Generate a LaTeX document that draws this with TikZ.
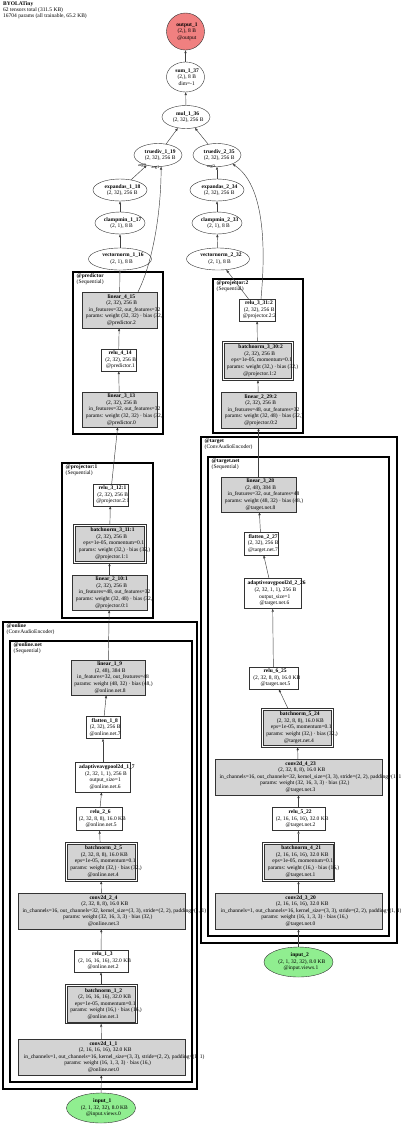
\documentclass[tikz,border=0pt]{standalone}
\usepackage{fontspec}
\setmainfont{Liberation Serif}
\usetikzlibrary{shapes.geometric,arrows.meta}
\definecolor{gvgray}{HTML}{D3D3D3}
\definecolor{gvred}{HTML}{F08080}
\definecolor{gvgreen}{HTML}{90EE90}
\newcommand{\gl}[1]{\makebox[0pt]{\makebox[0.86\width][l]{#1}}}
\tikzset{
  txt/.style={font=\fontsize{5.5}{6.6}\selectfont, align=center, inner sep=0pt},
  box/.style={txt, rectangle, draw=black!80, line width=0.4pt, fill=white},
  gbox/.style={box, fill=gvgray},
  dbox/.style={box, fill=white, path picture={\draw[draw=black!80, line width=0.4pt, fill=gvgray] ([xshift=1.7pt,yshift=-1.7pt]path picture bounding box.north west) rectangle ([xshift=-1.7pt,yshift=1.7pt]path picture bounding box.south east);}},
  oval/.style={txt, ellipse, draw=black!80, line width=0.4pt, fill=white},
  cl/.style={draw=black, line width=1.8pt},
  cllab/.style={anchor=north west, inner sep=0pt, align=left, font=\fontsize{5.5}{6.2}\selectfont},
  elab/.style={inner sep=0pt, font=\fontsize{4.3}{5}\selectfont},
  arr/.style={draw=black!75, line width=0.45pt, -{Triangle[length=3pt,width=2.2pt]}},
}
\begin{document}
\begin{tikzpicture}[x=1pt, y=-1pt]
\fill[white] (0,0) rectangle (400,1128);
\useasboundingbox (0,0) rectangle (400,1128);

% header
\node[cllab] (hdr) at (3,1) {\textbf{BYOLATiny}\\62 tensors total (311.5 KB)\\16704 params (all trainable, 65.2 KB)};

% clusters
\draw[cl] (73,272) rectangle (163,434);
\node[cllab] (predlab) at (76.5,273.5) {\textbf{@predictor}\\(Sequential)};
\draw[cl] (213,279) rectangle (303,433);
\node[cllab] (proj2lab) at (216.5,280.5) {\textbf{@projector:2}\\(Sequential)};
\draw[cl] (62,463) rectangle (153,618);
\node[cllab] (proj1lab) at (65.5,464.5) {\textbf{@projector:1}\\(Sequential)};
\draw[cl] (3,622) rectangle (197,1089);
\node[cllab] (onlab) at (6.5,623.5) {\textbf{@online}\\(ConvAudioEncoder)};
\draw[cl] (10,641) rectangle (192,1082);
\node[cllab] (onnetlab) at (13.5,642.5) {\textbf{@online.net}\\(Sequential)};
\draw[cl] (201,437) rectangle (397,943);
\node[cllab] (tglab) at (204.5,438.5) {\textbf{@target}\\(ConvAudioEncoder)};
\draw[cl] (208,457) rectangle (389,936);
\node[cllab] (tgnetlab) at (211.5,458.5) {\textbf{@target.net}\\(Sequential)};

% top ellipses
\node[oval, fill=gvred, minimum width=38pt, minimum height=37pt] (out) at (185.5,31.5) {\gl{\textbf{output\_1}}\\\gl{(2,), 8 B}\\\gl{@output}};
\node[oval, minimum width=38pt, minimum height=30pt] (sum) at (185.5,77) {\gl{\textbf{sum\_1\_37}}\\\gl{(2,), 8 B}\\\gl{dim=-1}};
\node[oval, minimum width=48pt, minimum height=23pt] (mul) at (186,117) {\gl{\textbf{mul\_1\_36}}\\\gl{(2, 32), 256 B}};
\node[oval, minimum width=48pt, minimum height=23pt] (td1) at (158,155) {\gl{\textbf{truediv\_1\_19}}\\\gl{(2, 32), 256 B}};
\node[oval, minimum width=48pt, minimum height=23pt] (td2) at (217,155) {\gl{\textbf{truediv\_2\_35}}\\\gl{(2, 32), 256 B}};
\node[oval, minimum width=54pt, minimum height=22pt] (ea1) at (120,190) {\gl{\textbf{expandas\_1\_18}}\\\gl{(2, 32), 256 B}};
\node[oval, minimum width=50pt, minimum height=22pt] (cm1) at (120,223) {\gl{\textbf{clampmin\_1\_17}}\\\gl{(2, 1), 8 B}};
\node[oval, minimum width=63pt, minimum height=22pt] (vn1) at (120,259) {\gl{\textbf{vectornorm\_1\_16}}\\\gl{(2, 1), 8 B}};
\node[oval, minimum width=54pt, minimum height=22pt] (ea2) at (217,190) {\gl{\textbf{expandas\_2\_34}}\\\gl{(2, 32), 256 B}};
\node[oval, minimum width=50pt, minimum height=22pt] (cm2) at (217,223) {\gl{\textbf{clampmin\_2\_33}}\\\gl{(2, 1), 8 B}};
\node[oval, minimum width=63pt, minimum height=22pt] (vn2) at (218,259) {\gl{\textbf{vectornorm\_2\_32}}\\\gl{(2, 1), 8 B}};

% predictor
\node[gbox, minimum width=75pt, minimum height=36pt] (lin415) at (119.5,310) {\gl{\textbf{linear\_4\_15}}\\\gl{(2, 32), 256 B}\\\gl{in\_features=32, out\_features=32}\\\gl{params: weight (32, 32) · bias (32,)}\\\gl{@predictor.2}};
\node[box, minimum width=35pt, minimum height=22pt] (relu414) at (118.5,360) {\gl{\textbf{relu\_4\_14}}\\\gl{(2, 32), 256 B}\\\gl{@predictor.1}};
\node[gbox, minimum width=75pt, minimum height=35pt] (lin313) at (119.5,409.5) {\gl{\textbf{linear\_3\_13}}\\\gl{(2, 32), 256 B}\\\gl{in\_features=32, out\_features=32}\\\gl{params: weight (32, 32) · bias (32,)}\\\gl{@predictor.0}};

% projector:2
\node[box, minimum width=36pt, minimum height=22pt] (relu331) at (257,310) {\gl{\textbf{relu\_3\_31:2}}\\\gl{(2, 32), 256 B}\\\gl{@projector.2:2}};
\node[dbox, minimum width=71pt, minimum height=39pt] (bn330) at (257.5,360.5) {\gl{\textbf{batchnorm\_3\_30:2}}\\\gl{(2, 32), 256 B}\\\gl{eps=1e-05, momentum=0.1}\\\gl{params: weight (32,) · bias (32,)}\\\gl{@projector.1:2}};
\node[gbox, minimum width=75pt, minimum height=36pt] (lin229) at (258.5,410) {\gl{\textbf{linear\_2\_29:2}}\\\gl{(2, 32), 256 B}\\\gl{in\_features=48, out\_features=32}\\\gl{params: weight (32, 48) · bias (32,)}\\\gl{@projector.0:2}};

% projector:1
\node[box, minimum width=35pt, minimum height=22pt] (relu312) at (110.5,495) {\gl{\textbf{relu\_3\_12:1}}\\\gl{(2, 32), 256 B}\\\gl{@projector.2:1}};
\node[dbox, minimum width=73pt, minimum height=39pt] (bn311) at (109.5,543.5) {\gl{\textbf{batchnorm\_3\_11:1}}\\\gl{(2, 32), 256 B}\\\gl{eps=1e-05, momentum=0.1}\\\gl{params: weight (32,) · bias (32,)}\\\gl{@projector.1:1}};
\node[gbox, minimum width=75pt, minimum height=35pt] (lin210) at (109.5,592.5) {\gl{\textbf{linear\_2\_10:1}}\\\gl{(2, 32), 256 B}\\\gl{in\_features=48, out\_features=32}\\\gl{params: weight (32, 48) · bias (32,)}\\\gl{@projector.0:1}};

% online
\node[gbox, minimum width=74pt, minimum height=35pt] (lin19) at (108,677.5) {\gl{\textbf{linear\_1\_9}}\\\gl{(2, 48), 384 B}\\\gl{in\_features=32, out\_features=48}\\\gl{params: weight (48, 32) · bias (48,)}\\\gl{@online.net.8}};
\node[box, minimum width=34pt, minimum height=22pt] (fl18) at (103,727.5) {\gl{\textbf{flatten\_1\_8}}\\\gl{(2, 32), 256 B}\\\gl{@online.net.7}};
\node[box, minimum width=55pt, minimum height=30pt] (ap17) at (103,777) {\gl{\textbf{adaptiveavgpool2d\_1\_7}}\\\gl{(2, 32, 1, 1), 256 B}\\\gl{output\_size=1}\\\gl{@online.net.6}};
\node[box, minimum width=46pt, minimum height=23pt] (relu26) at (99,819) {\gl{\textbf{relu\_2\_6}}\\\gl{(2, 32, 8, 8), 16.0 KB}\\\gl{@online.net.5}};
\node[dbox, minimum width=72pt, minimum height=39pt] (bn25) at (101,861.5) {\gl{\textbf{batchnorm\_2\_5}}\\\gl{(2, 32, 8, 8), 16.0 KB}\\\gl{eps=1e-05, momentum=0.1}\\\gl{params: weight (32,) · bias (32,)}\\\gl{@online.net.4}};
\node[gbox, minimum width=167pt, minimum height=36pt] (cv24) at (101.5,911) {\gl{\textbf{conv2d\_2\_4}}\\\gl{(2, 32, 8, 8), 16.0 KB}\\\gl{in\_channels=16, out\_channels=32, kernel\_size=(3, 3), stride=(2, 2), padding=(1, 1)}\\\gl{params: weight (32, 16, 3, 3) · bias (32,)}\\\gl{@online.net.3}};
\node[box, minimum width=54pt, minimum height=22pt] (relu13) at (101,961) {\gl{\textbf{relu\_1\_3}}\\\gl{(2, 16, 16, 16), 32.0 KB}\\\gl{@online.net.2}};
\node[dbox, minimum width=72pt, minimum height=39pt] (bn12) at (101,1004) {\gl{\textbf{batchnorm\_1\_2}}\\\gl{(2, 16, 16, 16), 32.0 KB}\\\gl{eps=1e-05, momentum=0.1}\\\gl{params: weight (16,) · bias (16,)}\\\gl{@online.net.1}};
\node[gbox, minimum width=167pt, minimum height=36pt] (cv11) at (101.5,1057) {\gl{\textbf{conv2d\_1\_1}}\\\gl{(2, 16, 16, 16), 32.0 KB}\\\gl{in\_channels=1, out\_channels=16, kernel\_size=(3, 3), stride=(2, 2), padding=(1, 1)}\\\gl{params: weight (16, 1, 3, 3) · bias (16,)}\\\gl{@online.net.0}};
\node[oval, fill=gvgreen, minimum width=69pt, minimum height=30pt] (in1) at (101,1108) {\gl{\textbf{input\_1}}\\\gl{(2, 1, 32, 32), 8.0 KB}\\\gl{@input.views.0}};

% target
\node[gbox, minimum width=75pt, minimum height=35pt] (lin328) at (258.5,494.5) {\gl{\textbf{linear\_3\_28}}\\\gl{(2, 48), 384 B}\\\gl{in\_features=32, out\_features=48}\\\gl{params: weight (48, 32) · bias (48,)}\\\gl{@target.net.8}};
\node[box, minimum width=34pt, minimum height=23pt] (fl227) at (261,543.5) {\gl{\textbf{flatten\_2\_27}}\\\gl{(2, 32), 256 B}\\\gl{@target.net.7}};
\node[box, minimum width=57pt, minimum height=30pt] (ap226) at (272.5,593.5) {\gl{\textbf{adaptiveavgpool2d\_2\_26}}\\\gl{(2, 32, 1, 1), 256 B}\\\gl{output\_size=1}\\\gl{@target.net.6}};
\node[box, minimum width=49pt, minimum height=22pt] (relu625) at (273.5,678) {\gl{\textbf{relu\_6\_25}}\\\gl{(2, 32, 8, 8), 16.0 KB}\\\gl{@target.net.5}};
\node[dbox, minimum width=72pt, minimum height=39pt] (bn524) at (297,727.5) {\gl{\textbf{batchnorm\_5\_24}}\\\gl{(2, 32, 8, 8), 16.0 KB}\\\gl{eps=1e-05, momentum=0.1}\\\gl{params: weight (32,) · bias (32,)}\\\gl{@target.net.4}};
\node[gbox, minimum width=167pt, minimum height=36pt] (cv423) at (298.5,777) {\gl{\textbf{conv2d\_4\_23}}\\\gl{(2, 32, 8, 8), 16.0 KB}\\\gl{in\_channels=16, out\_channels=32, kernel\_size=(3, 3), stride=(2, 2), padding=(1, 1)}\\\gl{params: weight (32, 16, 3, 3) · bias (32,)}\\\gl{@target.net.3}};
\node[box, minimum width=53pt, minimum height=23pt] (relu522) at (298.5,819) {\gl{\textbf{relu\_5\_22}}\\\gl{(2, 16, 16, 16), 32.0 KB}\\\gl{@target.net.2}};
\node[dbox, minimum width=72pt, minimum height=39pt] (bn421) at (298.5,861.5) {\gl{\textbf{batchnorm\_4\_21}}\\\gl{(2, 16, 16, 16), 32.0 KB}\\\gl{eps=1e-05, momentum=0.1}\\\gl{params: weight (16,) · bias (16,)}\\\gl{@target.net.1}};
\node[gbox, minimum width=167pt, minimum height=36pt] (cv320) at (298.5,911) {\gl{\textbf{conv2d\_3\_20}}\\\gl{(2, 16, 16, 16), 32.0 KB}\\\gl{in\_channels=1, out\_channels=16, kernel\_size=(3, 3), stride=(2, 2), padding=(1, 1)}\\\gl{params: weight (16, 1, 3, 3) · bias (16,)}\\\gl{@target.net.0}};
\node[oval, fill=gvgreen, minimum width=69pt, minimum height=30pt] (in2) at (298.5,962) {\gl{\textbf{input\_2}}\\\gl{(2, 1, 32, 32), 8.0 KB}\\\gl{@input.views.1}};

% edges online
\draw[arr] (in1) -- (cv11);
\draw[arr] (cv11) -- (bn12);
\draw[arr] (bn12) -- (relu13);
\draw[arr] (relu13) -- (cv24);
\draw[arr] (cv24) -- (bn25);
\draw[arr] (bn25) -- (relu26);
\draw[arr] (relu26) -- (ap17);
\draw[arr] (ap17) -- (fl18);
\draw[arr] (fl18) -- (lin19);
\draw[arr] (lin19) -- (lin210);
\draw[arr] (lin210) -- (bn311);
\draw[arr] (bn311) -- (relu312);
\draw[arr] (relu312) -- (lin313);
\draw[arr] (lin313) -- (relu414);
\draw[arr] (relu414) -- (lin415);
\draw[arr] (lin415) -- (vn1);
\draw[arr] ([xshift=18.5pt]lin415.north) .. controls (153,262) and (161,212) .. (td1.-75);
\draw[arr] (vn1) -- (cm1);
\draw[arr] (cm1) -- (ea1);
\draw[arr] (ea1) -- (td1);
\draw[arr] (td1) -- (mul);

% edges target
\draw[arr] (in2) -- (cv320);
\draw[arr] (cv320) -- (bn421);
\draw[arr] (bn421) -- (relu522);
\draw[arr] (relu522) -- (cv423);
\draw[arr] (cv423) -- (bn524);
\draw[arr] (bn524) -- (relu625);
\draw[arr] (relu625) -- (ap226);
\draw[arr] (ap226) -- (fl227);
\draw[arr] (fl227) -- (lin328);
\draw[arr] (lin328) -- (lin229);
\draw[arr] (lin229) -- (bn330);
\draw[arr] (bn330) -- (relu331);
\draw[arr] (relu331) -- (vn2);
\draw[arr] ([xshift=4pt]relu331.north) .. controls (266,245) and (264,185) .. (td2.-30);
\draw[arr] (vn2) -- (cm2);
\draw[arr] (cm2) -- (ea2);
\draw[arr] (ea2) -- (td2);
\draw[arr] (td2) -- (mul);

\draw[arr] (mul) -- (sum);
\draw[arr] (sum) -- (out);

% edge labels
\node[elab] (a0l) at (142,166) {arg0};
\node[elab] (a1l) at (155.5,167.5) {arg1};
\node[elab] (a0r) at (211,167) {arg0};
\end{tikzpicture}
\end{document}
